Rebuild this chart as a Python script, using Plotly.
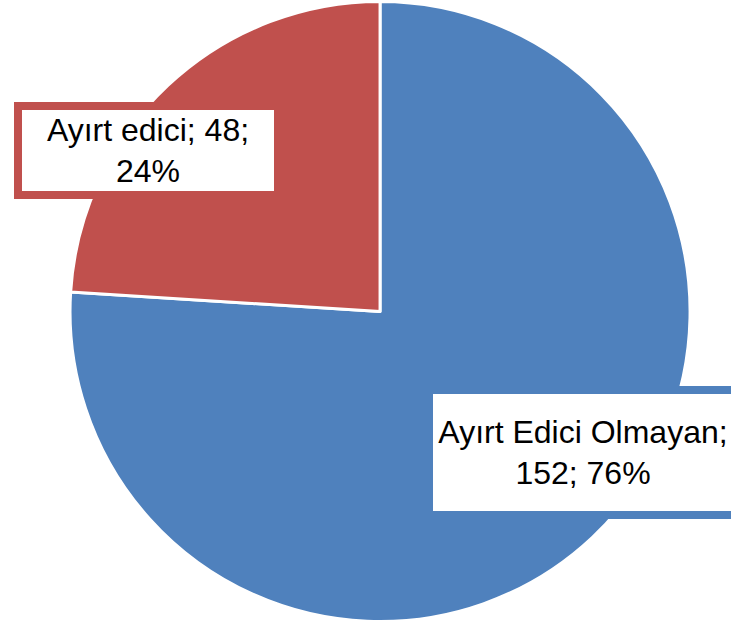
import plotly.graph_objects as go

labels = ["Ayırt Edici Olmayan", "Ayırt edici"]
values = [152, 48]
colors = ["#4F81BD", "#C0504D"]

total = sum(values)
pcts = [round(v * 100 / total) for v in values]
text_blue = f"{labels[0]};<br>{values[0]}; {pcts[0]}%"
text_red = f"{labels[1]}; {values[1]};<br>{pcts[1]}%"

fig = go.Figure(go.Pie(
    labels=labels,
    values=values,
    sort=False,
    direction="clockwise",
    rotation=0,
    marker=dict(colors=colors, line=dict(color="white", width=3)),
    textinfo="none",
    hoverinfo="label+value+percent",
    showlegend=False,
    domain=dict(x=[0.0958, 0.944], y=[0, 1]),
))

font = dict(family="Liberation Sans, Arial, sans-serif", size=32, color="black")
fig.add_annotation(x=148 / 731, y=1 - 151 / 623, xref="paper", yref="paper",
                   text=text_red, showarrow=False, font=font,
                   bgcolor="white", bordercolor=colors[1], borderwidth=8, borderpad=0,
                   width=252, height=81, xanchor="center", yanchor="middle")
fig.add_annotation(x=583 / 731, y=1 - 452 / 623, xref="paper", yref="paper",
                   text=text_blue, showarrow=False, font=font,
                   bgcolor="white", bordercolor=colors[0], borderwidth=8, borderpad=0,
                   width=300, height=117, xanchor="center", yanchor="middle")

fig.update_layout(width=731, height=623, margin=dict(l=0, r=0, t=0, b=0),
                  paper_bgcolor="white", plot_bgcolor="white")
fig.write_html("out.html", config={"displayModeBar": False},
               post_script="document.body.style.margin='0';")
